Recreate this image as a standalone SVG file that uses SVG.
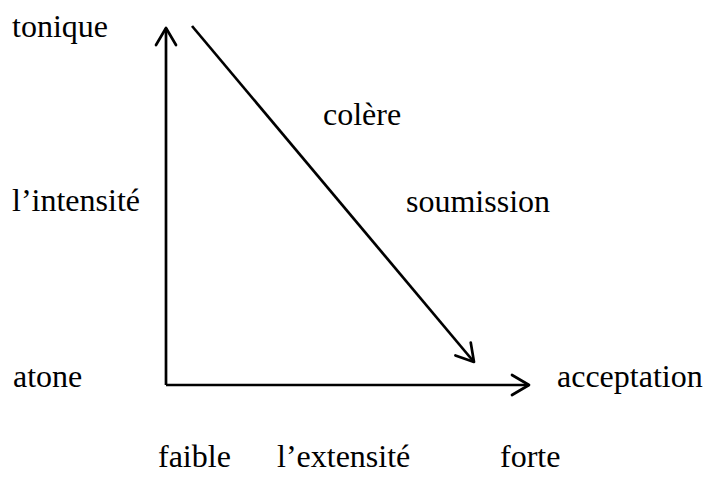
<svg xmlns="http://www.w3.org/2000/svg" width="707" height="477" viewBox="0 0 707 477">
<style>
.t{font-family:'Liberation Serif','DejaVu Serif','Noto Serif',serif;font-size:32px;fill:#000}
.ax{stroke:#000;stroke-width:2.7;fill:none}
</style>
<defs>
<marker id="ah" markerUnits="userSpaceOnUse" viewBox="-22 -14 26 28" markerWidth="26" markerHeight="28" refX="0" refY="0" orient="auto">
<path d="M-17,-10 L0,0 L-17,10" fill="none" stroke="#000" stroke-width="2.7" stroke-linejoin="round" stroke-linecap="round"/>
</marker>
</defs>
<rect width="707" height="477" fill="#fff"/>
<g id="connectors">
<path class="ax" d="M166,385 L166,28" marker-end="url(#ah)"/>
<path class="ax" d="M166,385 L529,385" marker-end="url(#ah)"/>
<path class="ax" d="M192,26 L474,362" marker-end="url(#ah)"/>
</g>
<g id="tonique"><text class="t" x="12" y="37">tonique</text></g>
<g id="intensite"><text class="t" x="12" y="211">l’intensité</text></g>
<g id="atone"><text class="t" x="13" y="387">atone</text></g>
<g id="colere"><text class="t" x="323" y="125">colère</text></g>
<g id="soumission"><text class="t" x="406" y="212">soumission</text></g>
<g id="acceptation"><text class="t" x="557" y="387">acceptation</text></g>
<g id="faible"><text class="t" x="158" y="467">faible</text></g>
<g id="extensite"><text class="t" x="277" y="467">l’extensité</text></g>
<g id="forte"><text class="t" x="500" y="467">forte</text></g>
</svg>
